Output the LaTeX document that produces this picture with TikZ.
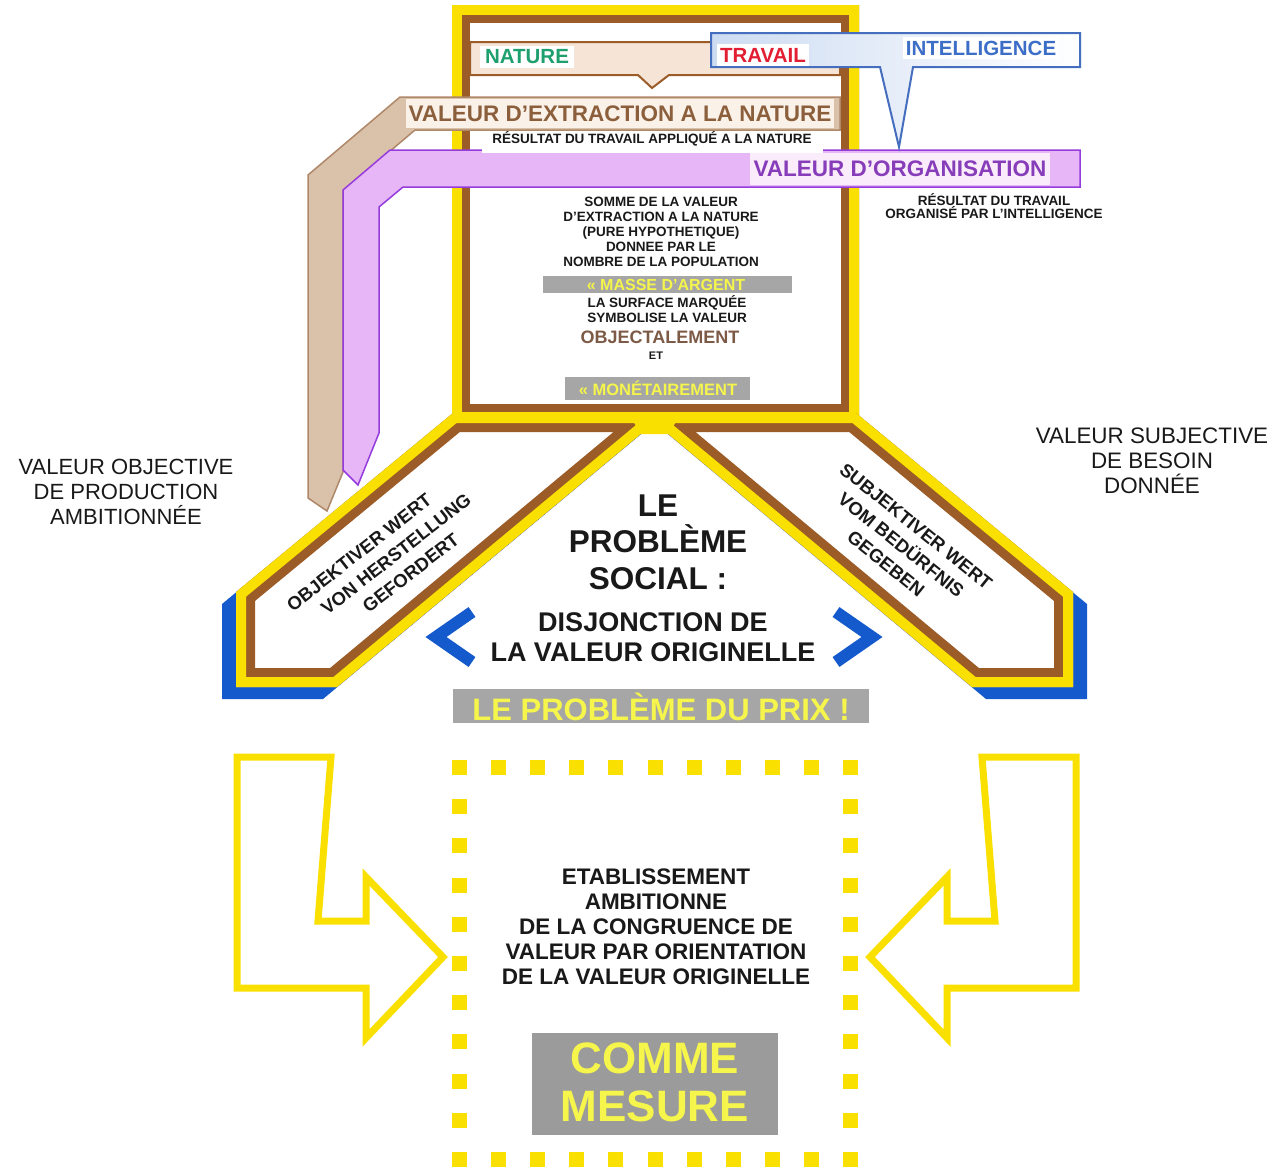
\documentclass[tikz,border=0pt]{standalone}
\usepackage{fontspec}
\setmainfont{Liberation Sans}
\newcommand{\fsz}[2]{\fontsize{#1}{#2}\selectfont}
\definecolor{yel}{RGB}{250,224,0}
\definecolor{brn}{RGB}{155,92,40}
\definecolor{blu}{RGB}{20,90,205}
\definecolor{gry}{RGB}{166,166,166}
\definecolor{gryb}{RGB}{155,155,155}
\definecolor{ytxt}{RGB}{245,245,75}
\definecolor{beigefill}{RGB}{218,194,170}
\definecolor{beigeln}{RGB}{175,135,105}
\definecolor{lav}{RGB}{230,182,246}
\definecolor{purpln}{RGB}{150,60,220}
\definecolor{purtxt}{RGB}{135,60,185}
\definecolor{peach}{RGB}{246,228,214}
\definecolor{ltblue}{RGB}{205,220,242}
\definecolor{bluln}{RGB}{70,110,190}
\definecolor{inttxt}{RGB}{60,110,200}
\definecolor{natgreen}{RGB}{30,160,110}
\definecolor{travred}{RGB}{225,30,50}
\definecolor{extbrown}{RGB}{140,95,60}
\definecolor{objbrown}{RGB}{125,90,70}
\definecolor{ink}{RGB}{25,25,25}
\begin{document}
\begin{tikzpicture}[x=1pt,y=-1pt,
  lbl/.style={inner sep=0pt, align=center, text=ink},
  small/.style={lbl, font=\bfseries\fsz{13.5}{15}},
  bartxt/.style={lbl, text=ytxt},
  wingtxt/.style={lbl, font=\bfseries\fsz{18.5}{24}},
  chev/.style={blu, line width=12, line join=miter},
  bigarrow/.style={yel, line width=7, line join=miter}]
\useasboundingbox (0,0) rectangle (1283,1171);
\fill[white] (0,0) rectangle (1283,1171);

% ---------- top box ----------
\begin{scope}
\clip (452,5) rectangle (859,422);
\fill[white] (452,5) rectangle (859,422);
\draw[brn, line width=36] (452,5) rectangle (859,422);
\draw[yel, line width=20] (452,5) rectangle (859,422);
\end{scope}

% ---------- wing shadows ----------
\fill[blu, shift={(-14,12)}] (453,413) -- (666,413) -- (337,687) -- (236,687) -- (236,592) -- cycle;
\fill[blu, shift={(14,12)}] (856,413) -- (643,413) -- (972,687) -- (1073,687) -- (1073,592) -- cycle;

% ---------- left wing ----------
\begin{scope}
\clip (453,413) -- (666,413) -- (337,687) -- (236,687) -- (236,592) -- cycle;
\fill[white] (453,413) -- (666,413) -- (337,687) -- (236,687) -- (236,592) -- cycle;
\draw[brn, line width=38, line join=miter] (453,413) -- (666,413) -- (337,687) -- (236,687) -- (236,592) -- cycle;
\draw[yel, line width=20, line join=miter] (453,413) -- (666,413) -- (337,687) -- (236,687) -- (236,592) -- cycle;
\end{scope}
% ---------- right wing ----------
\begin{scope}
\clip (856,413) -- (643,413) -- (972,687) -- (1073,687) -- (1073,592) -- cycle;
\fill[white] (856,413) -- (643,413) -- (972,687) -- (1073,687) -- (1073,592) -- cycle;
\draw[brn, line width=38, line join=miter] (856,413) -- (643,413) -- (972,687) -- (1073,687) -- (1073,592) -- cycle;
\draw[yel, line width=20, line join=miter] (856,413) -- (643,413) -- (972,687) -- (1073,687) -- (1073,592) -- cycle;
\end{scope}
\fill[yel] (628,413) -- (682,413) -- (668,434) -- (641,434) -- cycle;

% ---------- NATURE band ----------
\filldraw[fill=peach, draw=brn, line width=2] (470,42) -- (840,42) -- (840,75) -- (669,75) -- (652,88) -- (638,75) -- (470,75) -- cycle;

% ---------- beige bent arrow ----------
\filldraw[fill=beigefill, draw=beigeln, line width=1.5] (840,97) -- (400,97) -- (308,175) -- (308,498) -- (327,511) -- (343,472) -- (343,191) -- (415,130) -- (840,130) -- cycle;

% ---------- purple bent arrow ----------
\filldraw[fill=lav, draw=purpln, line width=1.5] (1080,150) -- (390,150) -- (343,190) -- (343,470) -- (358,485) -- (379,433) -- (379,207) -- (403,187) -- (1080,187) -- cycle;

% ---------- INTELLIGENCE callout ----------
\shadedraw[left color=ltblue, right color=white, draw=bluln, line width=2] (711,33) -- (1080,33) -- (1080,67) -- (913,67) -- (899,147) -- (880,67) -- (711,67) -- cycle;

% ---------- top texts ----------
\node[lbl, text=natgreen, font=\bfseries\fsz{20.5}{24}, fill=white, inner xsep=5pt, minimum height=22] (nature) at (527,57) {NATURE};
\node[lbl, text=travred, font=\bfseries\fsz{20.5}{24}, fill=white, inner xsep=3pt, minimum height=22] (travail) at (763,55) {TRAVAIL};
\node[lbl, text=inttxt, font=\bfseries\fsz{20.5}{24}, fill=white, inner xsep=3pt, minimum height=22] (intel) at (981,48) {INTELLIGENCE};
\node[lbl, text=extbrown, font=\bfseries\fsz{22.5}{26}, fill={rgb,255:red,250;green,241;blue,233}, inner xsep=3pt, minimum height=29] (extraction) at (620,113.5) {VALEUR D'EXTRACTION A LA NATURE};
\fill[white] (482,131.5) rectangle (823,152.5);
\node[small] (resnat) at (652,139) {RÉSULTAT DU TRAVAIL APPLIQUÉ A LA NATURE};
\node[lbl, text=purtxt, font=\bfseries\fsz{22.5}{26}, fill={rgb,255:red,250;green,236;blue,250}, inner xsep=4pt, minimum height=32] (organisation) at (900,168.5) {VALEUR D'ORGANISATION};
\node[small, font=\bfseries\fsz{13.5}{13}] (resorg) at (994,206) {RÉSULTAT DU TRAVAIL\\ORGANISÉ PAR L'INTELLIGENCE};

% ---------- box interior texts ----------
\node[small] (somme) at (661,232) {SOMME DE LA VALEUR\\D'EXTRACTION A LA NATURE\\(PURE HYPOTHETIQUE)\\DONNEE PAR LE\\NOMBRE DE LA POPULATION};
\fill[gry] (543,276) rectangle (792,293);
\node[bartxt, font=\bfseries\fsz{16}{18}] (masse) at (666,284.5) {« MASSE D'ARGENT};
\node[small, font=\bfseries\fsz{13.5}{14.5}] (surface) at (667,309) {LA SURFACE MARQUÉE\\SYMBOLISE LA VALEUR};
\node[lbl, text=objbrown, font=\bfseries\fsz{18}{20}] (objectal) at (660,337) {OBJECTALEMENT};
\node[lbl, font=\bfseries\fsz{11}{12}] (et) at (656,356) {ET};
\fill[gry] (565,377) rectangle (750,400);
\node[bartxt, font=\bfseries\fsz{16.5}{18}] (monet) at (658,388.5) {« MONÉTAIREMENT};

% ---------- side labels ----------
\node[lbl, font=\fsz{22}{25}] (objective) at (126,492) {VALEUR OBJECTIVE\\DE PRODUCTION\\AMBITIONNÉE};
\node[lbl, font=\fsz{22.4}{25}] (subjective) at (1152,461) {VALEUR SUBJECTIVE\\DE BESOIN\\DONNÉE};

% ---------- wing texts ----------
\node[wingtxt, rotate=38] (objwert) at (396,554) {OBJEKTIVER WERT\hspace*{56pt}\\VON HERSTELLUNG\\GEFORDERT};
\node[wingtxt, rotate=-38.8] (subwert) at (901,545) {SUBJEKTIVER WERT\\VOM BEDÜRFNIS\\GEGEBEN};

% ---------- centre ----------
\node[lbl, font=\bfseries\fsz{31.5}{36.5}] (social) at (658,542) {LE\\PROBLÈME\\SOCIAL :};
\node[lbl, font=\bfseries\fsz{27}{30}] (disjonction) at (653,637) {DISJONCTION DE\\LA VALEUR ORIGINELLE};
\draw[chev] (472,612) -- (436,637) -- (472,662);
\draw[chev] (836,612) -- (872,637) -- (836,662);
\fill[gry] (453,689) rectangle (869,723);
\node[bartxt, font=\bfseries\fsz{31}{34}] (prix) at (661,706.5) {LE PROBLÈME DU PRIX !};

% ---------- bottom ----------
\draw[bigarrow] (237,757) -- (331,757) -- (318,921) -- (366,921) -- (366,877) -- (443,957) -- (366,1038) -- (366,988) -- (237,988) -- cycle;
\draw[bigarrow] (1076,757) -- (982,757) -- (995,921) -- (947,921) -- (947,877) -- (870,957) -- (947,1038) -- (947,988) -- (1076,988) -- cycle;

\draw[yel, line width=15, dash pattern=on 15 off 24.1] (452,767.5) -- (858,767.5);
\draw[yel, line width=15, dash pattern=on 15 off 24.1] (452,1159.5) -- (858,1159.5);
\draw[yel, line width=15, dash pattern=on 15 off 24.2] (459.5,760) -- (459.5,1167);
\draw[yel, line width=15, dash pattern=on 15 off 24.2] (850.5,760) -- (850.5,1167);

\node[lbl, font=\bfseries\fsz{22.5}{25}] (etab) at (656,927) {ETABLISSEMENT\\AMBITIONNE\\DE LA CONGRUENCE DE\\VALEUR PAR ORIENTATION\\DE LA VALEUR ORIGINELLE};
\fill[gryb] (532,1033) rectangle (778,1135);
\node[bartxt, font=\bfseries\fsz{44}{48}] (mesure) at (655,1082) {COMME\\MESURE};
\end{tikzpicture}
\end{document}
